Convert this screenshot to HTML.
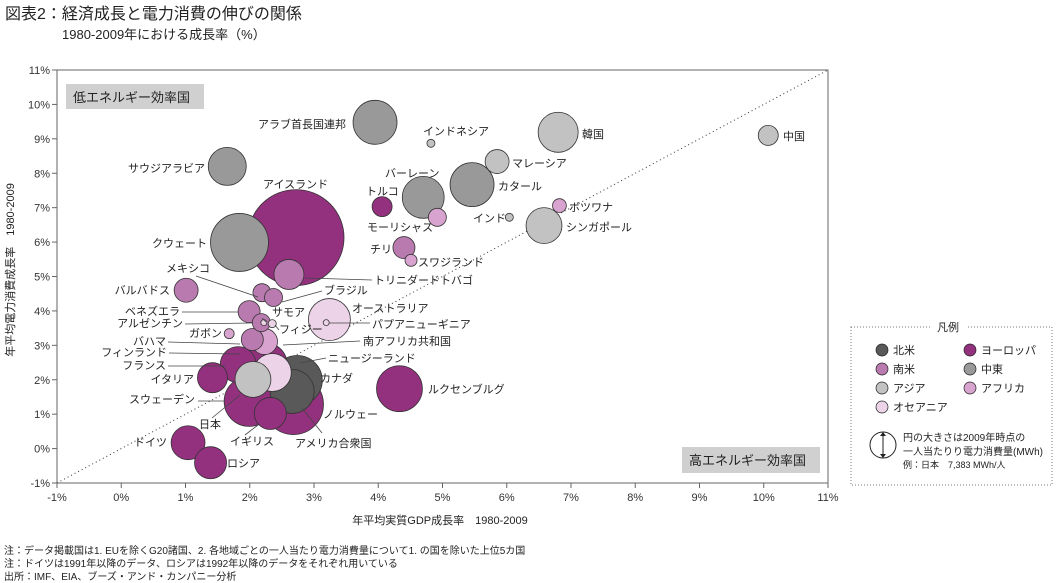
<!DOCTYPE html>
<html><head><meta charset="utf-8">
<style>
body{margin:0;background:#fff;}
svg{display:block;font-family:"Liberation Sans","Noto Sans CJK JP",sans-serif;}
</style></head>
<body>
<svg id="chart" width="1060" height="583" viewBox="0 0 1060 583" xmlns="http://www.w3.org/2000/svg">
<text x="5" y="19" font-size="16" fill="#222">図表2：経済成長と電力消費の伸びの関係</text>
<text x="62" y="39" font-size="13" fill="#222">1980-2009年における成長率（%）</text>
<g id="axes"></g>
<g id="bubbles"></g>
<g id="labels" font-size="11" fill="#222"></g>
<rect x="66" y="84" width="138" height="25" fill="#d0d0d0"/>
<text x="73" y="102" font-size="13" fill="#222">低エネルギー効率国</text>
<rect x="682" y="447" width="138" height="26" fill="#d0d0d0"/>
<text x="689" y="465" font-size="13" fill="#222">高エネルギー効率国</text>
<text transform="translate(14,270) rotate(-90)" text-anchor="middle" font-size="11" fill="#222">年平均電力消費成長率　1980-2009</text>
<text x="440" y="524" text-anchor="middle" font-size="11" fill="#222">年平均実質GDP成長率　1980-2009</text>
<g font-size="11" fill="#222">
<rect x="851" y="327" width="201" height="158" fill="none" stroke="#777" stroke-dasharray="1,2"/>
<rect x="930" y="320" width="36" height="14" fill="#fff"/>
<text x="948" y="331" text-anchor="middle">凡例</text>
<g><circle cx="882" cy="350" r="6" fill="#595959" stroke="#222" stroke-width="0.7"/><text x="893" y="354">北米</text></g>
<g><circle cx="970" cy="350" r="6" fill="#93317f" stroke="#222" stroke-width="0.7"/><text x="981" y="354">ヨーロッパ</text></g>
<g><circle cx="882" cy="369" r="6" fill="#b97aaf" stroke="#222" stroke-width="0.7"/><text x="893" y="373">南米</text></g>
<g><circle cx="970" cy="369" r="6" fill="#999" stroke="#222" stroke-width="0.7"/><text x="981" y="373">中東</text></g>
<g><circle cx="882" cy="388" r="6" fill="#c2c2c2" stroke="#222" stroke-width="0.7"/><text x="893" y="392">アジア</text></g>
<g><circle cx="970" cy="388" r="6" fill="#d8a3cf" stroke="#222" stroke-width="0.7"/><text x="981" y="392">アフリカ</text></g>
<g><circle cx="882" cy="407" r="6" fill="#ecd3e8" stroke="#222" stroke-width="0.7"/><text x="893" y="411">オセアニア</text></g>
<circle cx="883" cy="445" r="13" fill="#fff" stroke="#222"/>
<line x1="883" y1="434" x2="883" y2="456" stroke="#222"/>
<path d="M880,436 L883,432 L886,436 Z M880,454 L883,458 L886,454 Z" fill="#222"/>
<text x="903" y="441" font-size="10">円の大きさは2009年時点の</text>
<text x="903" y="455" font-size="10">一人当たりり電力消費量(MWh)</text>
<text x="903" y="468" font-size="9">例：日本　7,383 MWh/人</text>
</g>
<g font-size="10" fill="#222">
<text x="4" y="554">注：データ掲載国は1. EUを除くG20諸国、2. 各地域ごとの一人当たり電力消費量について1. の国を除いた上位5カ国</text>
<text x="4" y="567">注：ドイツは1991年以降のデータ、ロシアは1992年以降のデータをそれぞれ用いている</text>
<text x="4" y="580">出所：IMF、EIA、ブーズ・アンド・カンパニー分析</text>
</g>
</svg>
<script>
const countries=["Iceland","Norway","Kuwait","Canada","Sweden","Luxembourg","UAE","Finland","USA","Qatar","Bahrain","Australia","Korea","NewZealand","Saudi","France","Singapore","Japan","Germany","UK","Russia","Italy","Trinidad","SouthAfrica","Barbados","Malaysia","Chile","Venezuela","Bahamas","Turkey","China","Mauritius","Mexico","Brazil","Argentina","Botswana","Swaziland","Gabon","Indonesia","Fiji","India","Samoa","PNG"];
const regions=["eu","eu","me","na","eu","eu","me","eu","na","me","me","oc","as","oc","me","eu","as","as","eu","eu","eu","eu","sa","af","sa","as","sa","sa","sa","eu","as","af","sa","sa","sa","af","af","af","as","oc","as","oc","oc"];
const gdpGrowth=[2.72,2.68,1.84,2.74,1.99,4.33,3.95,2.24,2.66,5.46,4.70,3.24,6.80,2.35,1.65,1.82,6.58,2.05,1.04,2.32,1.39,1.42,2.61,2.23,1.01,5.85,4.40,1.99,2.04,4.06,10.07,4.92,2.19,2.37,2.18,6.82,4.51,1.68,4.82,2.35,6.04,2.22,3.19];
const powerGrowth=[6.13,1.28,5.99,1.98,1.37,1.74,9.48,2.44,1.66,7.67,7.30,3.75,9.19,2.21,8.20,2.44,6.48,2.01,0.17,1.02,-0.41,2.06,5.06,3.11,4.60,8.34,5.84,3.98,3.17,7.03,9.10,6.72,4.53,4.39,3.66,7.06,5.47,3.34,8.87,3.63,6.72,3.66,3.66];
const perCapitaMWh=[52.9,20.7,19.3,14.3,14.3,12.1,11.1,11.1,11.1,11.1,10.1,10.1,9.2,8.3,8.3,7.4,7.4,7.383,6.6,5.9,5.9,5.17,5.17,3.88,3.3,3.3,2.78,2.78,2.78,2.3,2.3,1.86,1.86,1.86,1.86,1.1,0.83,0.57,0.37,0.37,0.37,0.21,0.21];
const xTicks=[-1,0,1,2,3,4,5,6,7,8,9,10,11];
const yTicks=[-1,0,1,2,3,4,5,6,7,8,9,10,11];
const colors={na:"#595959",eu:"#93317f",sa:"#b97aaf",me:"#999999",as:"#c2c2c2",af:"#d8a3cf",oc:"#ecd3e8"};
const X0=57,X1=828,Y0=483,Y1=70;
function xs(v){return X0+(v+1)*(X1-X0)/12;}
function ys(v){return Y0-(v+1)*(Y0-Y1)/12;}
function rs(s){return 6.6*Math.sqrt(s);}
const NS="http://www.w3.org/2000/svg";
function mk(t,a){const e=document.createElementNS(NS,t);for(const k in a)e.setAttribute(k,a[k]);return e;}
const axes=document.getElementById('axes');
const frame=mk('rect',{x:X0,y:Y1,width:X1-X0,height:Y0-Y1,fill:'none',stroke:'#666','stroke-width':1});


axes.appendChild(frame);
const diag=mk('line',{x1:xs(-1),y1:ys(-1),x2:xs(11),y2:ys(11),stroke:'#333','stroke-dasharray':'1,3','stroke-width':1});


axes.appendChild(diag);
xTicks.forEach(v=>{
  axes.appendChild(mk('line',{x1:xs(v),y1:Y0,x2:xs(v),y2:Y0+5,stroke:'#666'}));
  const t=mk('text',{x:xs(v),y:Y0+18,'text-anchor':'middle','font-size':11,fill:'#333'});
  t.textContent=v+'%';
  
  
  axes.appendChild(t);
});
yTicks.forEach(v=>{
  axes.appendChild(mk('line',{x1:X0-5,y1:ys(v),x2:X0,y2:ys(v),stroke:'#666'}));
  const t=mk('text',{x:X0-7,y:ys(v)+4,'text-anchor':'end','font-size':11,fill:'#333'});
  t.textContent=v+'%';
  
  
  axes.appendChild(t);
});
const bg=document.getElementById('bubbles');
const idx=countries.map((c,i)=>i).sort((a,b)=>perCapitaMWh[b]-perCapitaMWh[a]);
idx.forEach(i=>{
  const c=mk('circle',{cx:xs(gdpGrowth[i]),cy:ys(powerGrowth[i]),r:rs(perCapitaMWh[i]),fill:colors[regions[i]],stroke:'#333','stroke-width':0.8});
  
  
  bg.appendChild(c);
});
const labels=[
["アラブ首長国連邦",346,128,"end"],["インドネシア",423,135,"start"],["韓国",582,138,"start"],["中国",783,140,"start"],
["サウジアラビア",205,172,"end"],["マレーシア",512,167,"start"],["アイスランド",263,188,"start"],["バーレーン",385,177,"start"],
["カタール",498,190,"start"],["トルコ",366,195,"start"],["ボツワナ",569,211,"start"],["インド",473,222,"start"],
["モーリシャス",367,231,"start"],["シンガポール",566,231,"start"],["クウェート",207,247,"end"],["チリ",370,253,"start"],
["スワジランド",418,266,"start"],["メキシコ",166,272,"start"],["トリニダードトバゴ",374,284,"start"],["バルバドス",170,294,"end"],
["ブラジル",324,294,"start"],["ベネズエラ",180,315,"end"],["オーストラリア",352,312,"start"],["サモア",272,316,"start"],
["アルゼンチン",183,327,"end"],["パプアニューギニア",372,328,"start"],["フィジー",279,333,"start"],["ガボン",222,337,"end"],
["南アフリカ共和国",363,345,"start"],["バハマ",166,345,"end"],["フィンランド",167,356,"end"],["ニュージーランド",328,362,"start"],
["フランス",166,369,"end"],["カナダ",320,382,"start"],["イタリア",194,383,"end"],["ルクセンブルグ",428,393,"start"],
["スウェーデン",195,403,"end"],["ノルウェー",323,418,"start"],["日本",199,428,"start"],["イギリス",230,445,"start"],
["アメリカ合衆国",295,447,"start"],["ドイツ",167,446,"end"],["ロシア",227,467,"start"]];
const lines=[[305,278,372,280],[196,276,258,297],[282,302,322,291],[182,312,238,312],[185,324,252,323],[266,322,262,318],[275,325,279,330],
[329,323,370,323],[283,345,360,341],[168,342,240,344],[169,353,240,354],[300,363,326,358],[168,366,225,366],[198,401,225,401],[212,418,240,395],[245,435,258,425],[322,433,302,408]];
const lg=document.getElementById('labels');
lines.forEach(l=>{
  const e=mk('line',{x1:l[0],y1:l[1],x2:l[2],y2:l[3],stroke:'#444','stroke-width':0.8});
  
  
  lg.appendChild(e);
});
labels.forEach(l=>{
  const t=mk('text',{x:l[1],y:l[2],'text-anchor':l[3]});
  t.textContent=l[0];
  
  
  lg.appendChild(t);
});
</script>
</body></html>
